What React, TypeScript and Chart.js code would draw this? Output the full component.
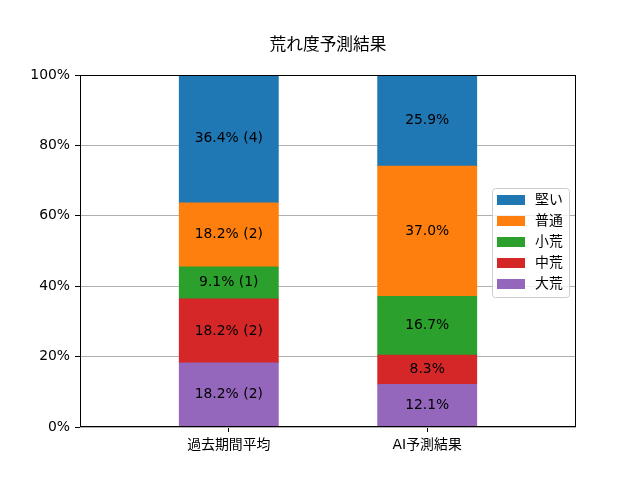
import { useEffect, useRef } from "react"
import { Chart, registerables } from "chart.js"

Chart.register(...registerables)

const FONT = "'DejaVu Sans', 'Noto Sans CJK JP', sans-serif"

// categories on the x axis
const categories = ["過去期間平均", "AI予測結果"]

// stack order, bottom first
const seriesNames = ["大荒", "中荒", "小荒", "普通", "堅い"]
const seriesColors = ["#9467bd", "#d62728", "#2ca02c", "#ff7f0e", "#1f77b4"]

// percentage per series: [過去期間平均, AI予測結果]
const daiare = [18.2, 12.1]
const chuare = [18.2, 8.3]
const shoare = [9.1, 16.7]
const futsu = [18.2, 37.0]
const katai = [36.4, 25.9]

// race counts for the past-average bar
const pastCounts = [2, 2, 1, 2, 4]

const yTicks = [0, 20, 40, 60, 80, 100]

const seriesValues = [daiare, chuare, shoare, futsu, katai]

export default function App() {
  const chartRef = useRef<HTMLCanvasElement>(null)
  const chartInstance = useRef<Chart | null>(null)

  useEffect(() => {
    if (!chartRef.current) return
    document.body.style.margin = "0"

    if (chartInstance.current) {
      chartInstance.current.destroy()
    }

    const overlay = {
      id: "overlay",
      afterDatasetsDraw(chart: any) {
        const ctx = chart.ctx
        ctx.save()
        ctx.font = `13.9px ${FONT}`
        ctx.fillStyle = "#000"
        ctx.textAlign = "center"
        ctx.textBaseline = "middle"
        chart.data.datasets.forEach((ds: any, di: number) => {
          const meta = chart.getDatasetMeta(di)
          meta.data.forEach((bar: any, i: number) => {
            const v = seriesValues[di][i]
            let txt = v.toFixed(1) + "%"
            if (i === 0) txt += ` (${pastCounts[di]})`
            const cy = (bar.y + bar.base) / 2
            ctx.fillText(txt, bar.x, cy)
          })
        })
        ctx.restore()
      },
      afterDraw(chart: any) {
        const ctx = chart.ctx
        const a = chart.chartArea
        ctx.save()
        // spines
        ctx.strokeStyle = "#000"
        ctx.lineWidth = 1
        ctx.strokeRect(a.left + 0.5, a.top + 0.5, a.right - a.left - 1, a.bottom - a.top - 1)

        // title
        ctx.font = `16.7px ${FONT}`
        ctx.fillStyle = "#000"
        ctx.textAlign = "center"
        ctx.textBaseline = "alphabetic"
        ctx.fillText("荒れ度予測結果", (a.left + a.right) / 2, 50)

        // legend (reversed order)
        const bx = 492
        const by = 188
        const bw = 77
        const bh = 109
        ctx.fillStyle = "rgba(255,255,255,0.8)"
        ctx.strokeStyle = "#cccccc"
        ctx.beginPath()
        ctx.roundRect(bx + 0.5, by + 0.5, bw, bh, 3)
        ctx.fill()
        ctx.stroke()
        ctx.font = `13.9px ${FONT}`
        ctx.textAlign = "left"
        ctx.textBaseline = "middle"
        for (let k = 0; k < seriesNames.length; k++) {
          const idx = seriesNames.length - 1 - k
          const cy = by + 12 + k * 21
          ctx.fillStyle = seriesColors[idx]
          ctx.fillRect(bx + 5, cy - 5, 28, 10)
          ctx.fillStyle = "#000"
          ctx.fillText(seriesNames[idx], bx + 43, cy)
        }
        ctx.restore()
      },
    }

    const ctx = chartRef.current.getContext("2d")
    if (ctx) {
      chartInstance.current = new Chart(ctx, {
        type: "bar",
        data: {
          datasets: seriesNames.map((name, di) => ({
            label: name,
            data: seriesValues[di].map((v, i) => ({ x: i, y: v })),
            backgroundColor: seriesColors[di],
            borderWidth: 0,
            grouped: false,
            barThickness: 99.2,
            maxBarThickness: 99.2,
          })),
        },
        options: {
          responsive: false,
          animation: false,
          devicePixelRatio: 1,
          layout: { padding: { top: 75, right: 64, left: 0, bottom: 0 } },
          scales: {
            x: {
              type: "linear",
              stacked: true,
              offset: false,
              min: -0.75,
              max: 1.75,
              afterBuildTicks: (scale: any) => {
                scale.ticks = categories.map((_, i) => ({ value: i }))
              },
              afterFit: (scale: any) => {
                scale.height = 53
              },
              grid: {
                offset: false,
                drawOnChartArea: false,
                drawTicks: true,
                tickLength: 5,
                tickColor: "#000",
                tickWidth: 1,
              },
              border: { display: false },
              ticks: {
                autoSkip: false,
                maxRotation: 0,
                padding: 5,
                color: "#000",
                font: { family: FONT, size: 13.9 },
                callback: (v: any) => categories[v] ?? "",
              },
            },
            y: {
              stacked: true,
              min: 0,
              max: 100,
              afterBuildTicks: (scale: any) => {
                scale.ticks = yTicks.map((v) => ({ value: v }))
              },
              afterFit: (scale: any) => {
                scale.width = 80
              },
              grid: {
                color: "#b0b0b0",
                lineWidth: 1,
                tickLength: 5,
                tickColor: "#000",
                tickWidth: 1,
              },
              border: { display: false },
              ticks: {
                padding: 5,
                color: "#000",
                font: { family: FONT, size: 13.9 },
                callback: (v: any) => v + "%",
              },
            },
          },
          plugins: {
            legend: { display: false },
            tooltip: { enabled: false },
            title: { display: false },
          },
        },
        plugins: [overlay],
      })
    }

    return () => {
      if (chartInstance.current) {
        chartInstance.current.destroy()
        chartInstance.current = null
      }
    }
  }, [])

  return <canvas ref={chartRef} width={640} height={480} />
}
